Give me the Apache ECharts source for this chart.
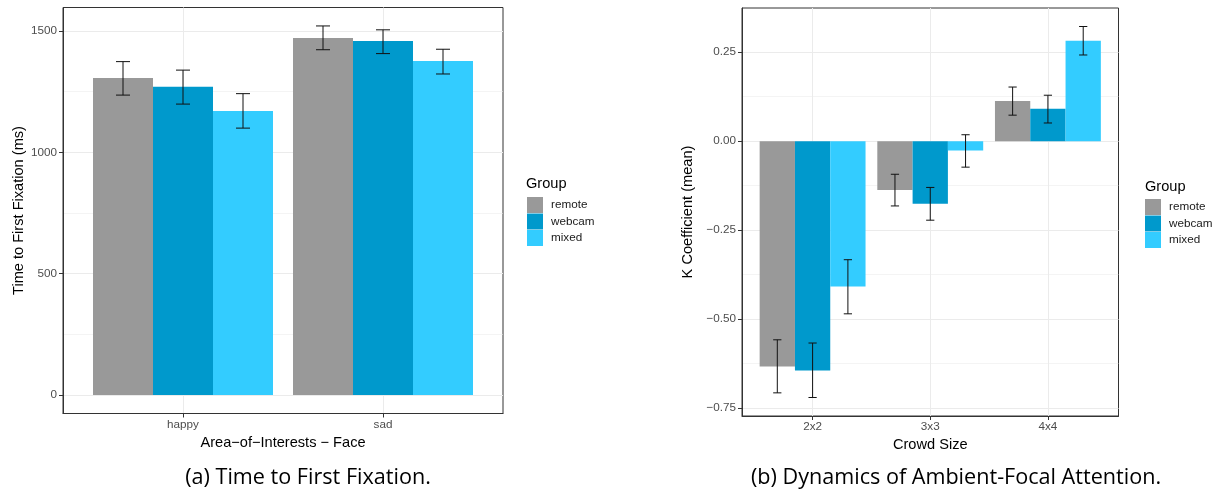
<!DOCTYPE html>
<html><head><meta charset="utf-8">
<script src="https://cdn.jsdelivr.net/npm/echarts@6/dist/echarts.min.js"></script>
<style>html,body{margin:0;padding:0;background:#fff;}#c{width:1225px;height:494px;}</style>
</head><body><div id="c"></div>
<script>
// ---- data ----
const groups = ['remote', 'webcam', 'mixed'];
const groupColors = ['#999999', '#0099cc', '#33ccff'];

// (a) Time to First Fixation
const aoiCategories = ['happy', 'sad'];
const ttffRemote = [1307, 1471];
const ttffWebcam = [1270, 1459];
const ttffMixed  = [1171, 1377];
const ttffRemoteLo = [1236, 1423];
const ttffRemoteHi = [1374, 1521];
const ttffWebcamLo = [1199, 1407];
const ttffWebcamHi = [1339, 1505];
const ttffMixedLo  = [1100, 1323];
const ttffMixedHi  = [1242, 1425];
const ttffTicks = [0, 500, 1000, 1500];
const ttffMinorTicks = [250, 750, 1250];
const ttffRange = [-76, 1597];

// (b) Dynamics of Ambient-Focal Attention
const crowdCategories = ['2x2', '3x3', '4x4'];
const kRemote = [-0.633, -0.137, 0.113];
const kWebcam = [-0.644, -0.176, 0.091];
const kMixed  = [-0.408, -0.026, 0.282];
const kRemoteLo = [-0.707, -0.182, 0.073];
const kRemoteHi = [-0.558, -0.093, 0.152];
const kWebcamLo = [-0.720, -0.222, 0.051];
const kWebcamHi = [-0.567, -0.130, 0.129];
const kMixedLo  = [-0.485, -0.073, 0.242];
const kMixedHi  = [-0.333, 0.018, 0.322];
const kTicks = [-0.75, -0.5, -0.25, 0, 0.25];
const kMinorTicks = [-0.625, -0.375, -0.125, 0.125];
const kRange = [-0.772, 0.374];

// ---- chart ----
const FONT = 'Liberation Sans';
const CAPTION_FONT = 'Open Sans';
const DODGE = 0.3;
const CAP_HALF = 0.035;

const panels = [
  { cats: aoiCategories, vals: [ttffRemote, ttffWebcam, ttffMixed],
    lo: [ttffRemoteLo, ttffWebcamLo, ttffMixedLo], hi: [ttffRemoteHi, ttffWebcamHi, ttffMixedHi],
    ticks: ttffTicks, minor: ttffMinorTicks, range: ttffRange,
    fmt: v => String(v), xName: 'Area\u2212of\u2212Interests \u2212 Face', yName: 'Time to First Fixation (ms)',
    grid: { left: 63, top: 7.5, width: 440, height: 406 }, yNameGap: 37 },
  { cats: crowdCategories, vals: [kRemote, kWebcam, kMixed],
    lo: [kRemoteLo, kWebcamLo, kMixedLo], hi: [kRemoteHi, kWebcamHi, kMixedHi],
    ticks: kTicks, minor: kMinorTicks, range: kRange,
    fmt: v => (v < 0 ? '\u2212' : '') + Math.abs(v).toFixed(2), xName: 'Crowd Size', yName: 'K Coefficient (mean)',
    grid: { left: 742, top: 8, width: 376.5, height: 408 }, yNameGap: 47 }
];

function renderErr(params, api) {
  const x = api.value(0), lo = api.value(1), hi = api.value(2);
  const a = api.coord([x, lo]), b = api.coord([x, hi]);
  const l1 = api.coord([x - CAP_HALF, hi]), r1 = api.coord([x + CAP_HALF, hi]);
  const l2 = api.coord([x - CAP_HALF, lo]), r2 = api.coord([x + CAP_HALF, lo]);
  const style = { stroke: '#111111', lineWidth: 1, fill: null };
  return { type: 'group', children: [
    { type: 'line', shape: { x1: a[0], y1: a[1], x2: b[0], y2: b[1] }, style },
    { type: 'line', shape: { x1: l1[0], y1: l1[1], x2: r1[0], y2: r1[1] }, style },
    { type: 'line', shape: { x1: l2[0], y1: l2[1], x2: r2[0], y2: r2[1] }, style }
  ]};
}

const grids = [], xAxes = [], yAxes = [], series = [];
panels.forEach((p, k) => {
  grids.push(Object.assign({ show: true, borderColor: '#333333', borderWidth: 1, backgroundColor: '#ffffff' }, p.grid));
  const catIdx = p.cats.map((c, i) => i + 1);
  xAxes.push({
    type: 'value', gridIndex: k, min: 0.4, max: p.cats.length + 0.6,
    axisLine: { show: true, onZero: false, lineStyle: { color: '#333333', width: 1 } },
    axisTick: { show: true, customValues: catIdx, length: 4, lineStyle: { color: '#333333', width: 1 } },
    axisLabel: { customValues: catIdx, formatter: v => p.cats[Math.round(v) - 1], color: '#4d4d4d', fontSize: 11.7, fontFamily: FONT, margin: 5 },
    splitLine: { show: true, lineStyle: { color: '#ebebeb', width: 1 } },
    name: p.xName, nameLocation: 'middle', nameGap: 17,
    nameTextStyle: { color: '#000000', fontSize: 14.6, fontFamily: FONT }
  });
  yAxes.push({
    type: 'value', gridIndex: k, min: p.range[0], max: p.range[1],
    axisLine: { show: true, onZero: false, lineStyle: { color: '#333333', width: 1 } },
    axisTick: { show: true, customValues: p.ticks, length: 4, lineStyle: { color: '#333333', width: 1 } },
    axisLabel: { customValues: p.ticks, formatter: p.fmt, color: '#4d4d4d', fontSize: 11.7, fontFamily: FONT, margin: 6 },
    splitLine: { show: true, lineStyle: { color: '#ebebeb', width: 1 } },
    name: p.yName, nameLocation: 'middle', nameGap: p.yNameGap,
    nameTextStyle: { color: '#000000', fontSize: 14.6, fontFamily: FONT }
  });
  yAxes.push({
    type: 'value', gridIndex: k, min: p.range[0], max: p.range[1], position: 'right',
    axisLine: { show: false, onZero: false }, axisLabel: { show: false },
    axisTick: { show: false, customValues: p.minor },
    splitLine: { show: true, lineStyle: { color: '#ebebeb', width: 0.55 } }
  });
  groups.forEach((g, gi) => {
    series.push({
      name: g, type: 'bar', xAxisIndex: k, yAxisIndex: 2 * k,
      data: p.vals[gi].map((v, i) => [i + 1, v]),
      itemStyle: { color: groupColors[gi] },
      barGap: '0%', barCategoryGap: '10%'
    });
  });
  groups.forEach((g, gi) => {
    series.push({
      name: g + ' error', type: 'custom', xAxisIndex: k, yAxisIndex: 2 * k,
      renderItem: renderErr, z: 5,
      encode: { x: 0, y: [1, 2] },
      data: p.lo[gi].map((l, i) => [i + 1 + (gi - 1) * DODGE, l, p.hi[gi][i]])
    });
  });
});

const legendCommon = {
  orient: 'vertical', data: groups, icon: 'rect', itemWidth: 16, itemHeight: 16, itemGap: 0.5,
  selectedMode: false, padding: 0,
  textStyle: { fontSize: 11.7, color: '#1a1a1a', fontFamily: FONT, padding: [0, 0, 0, 3] }
};

const chart = echarts.init(document.getElementById('c'), null, { renderer: 'canvas' });
chart.setOption({
  animation: false,
  backgroundColor: '#ffffff',
  grid: grids, xAxis: xAxes, yAxis: yAxes, series: series,
  legend: [
    Object.assign({ left: 527, top: 197 }, legendCommon),
    Object.assign({ left: 1145, top: 199 }, legendCommon)
  ],
  graphic: [
    { type: 'text', x: 526, y: 184, style: { text: 'Group', fontSize: 14.6, fontFamily: FONT, fill: '#000', align: 'left', verticalAlign: 'middle' } },
    { type: 'text', x: 1145, y: 187, style: { text: 'Group', fontSize: 14.6, fontFamily: FONT, fill: '#000', align: 'left', verticalAlign: 'middle' } },
    { type: 'text', x: 308, y: 478, style: { text: '(a) Time to First Fixation.', fontSize: 21.6, fontFamily: CAPTION_FONT, fill: '#000', align: 'center', verticalAlign: 'middle' } },
    { type: 'text', x: 956, y: 478, style: { text: '(b) Dynamics of Ambient-Focal Attention.', fontSize: 21.6, fontFamily: CAPTION_FONT, fill: '#000', align: 'center', verticalAlign: 'middle' } }
  ]
});
</script></body></html>
